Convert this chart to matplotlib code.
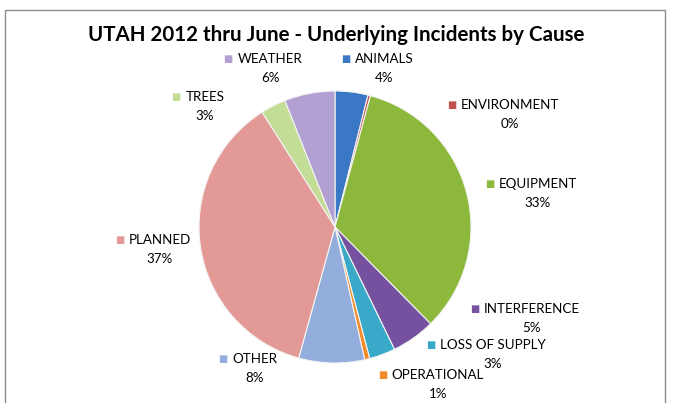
import matplotlib.pyplot as plt
from matplotlib.patches import Rectangle

# data (percent of incidents)
causes = ['ANIMALS', 'ENVIRONMENT', 'EQUIPMENT', 'INTERFERENCE', 'LOSS OF SUPPLY',
          'OPERATIONAL', 'OTHER', 'PLANNED', 'TREES', 'WEATHER']
shares = [3.9, 0.3, 33.4, 5.2, 3.1, 0.6, 7.8, 36.7, 3.0, 6.0]
colors = ['#3a77c4', '#c0504d', '#8cb83c', '#7551a0', '#38a9c8',
          '#f28a2a', '#93addc', '#e39a97', '#c3dc96', '#b3a0d2']

# label anchor (pixel, centre of the name text), layout only
label_pos = [(384, 59), (510, 105), (538, 184), (532, 309), (493, 345),
             (438, 375), (255, 359), (160, 240), (205, 97), (270, 59)]

W, H = 673, 403
plt.rcParams['font.family'] = ['Lato', 'DejaVu Sans']
fig = plt.figure(figsize=(W / 100, H / 100), dpi=100)

# chart frame
fig.patches.append(Rectangle((5 / W, -0.05), 660 / W, 1 - 10 / H + 0.05,
                             transform=fig.transFigure, fill=False,
                             edgecolor='#8c8c8c', linewidth=1))

cx, cy, r = 335, 227, 136
ax = fig.add_axes([(cx - r) / W, 1 - (cy + r) / H, 2 * r / W, 2 * r / H])
ax.pie(shares, colors=colors, startangle=90, counterclock=False,
       wedgeprops=dict(edgecolor='#f4f4f4', linewidth=0.8))
ax.set_xlim(-1, 1)
ax.set_ylim(-1, 1)
ax.axis('off')

fig.text(0.5, 1 - 35 / H, 'UTAH 2012 thru June - Underlying Incidents by Cause',
         ha='center', va='center', fontsize=14.8, fontweight='bold')

for name, val, col, (px, py) in zip(causes, shares, colors, label_pos):
    t = fig.text(px / W, 1 - py / H, name, ha='center', va='center', fontsize=9.6)
    fig.canvas.draw()
    bb = t.get_window_extent()
    fig.text((bb.x0 - 14) / W, 1 - py / H, '\u25a0', color=col, ha='left',
             va='center', fontsize=7, family='DejaVu Sans')
    fig.text(px / W, 1 - (py + 19) / H, '%.0f%%' % val, ha='center',
             va='center', fontsize=9.6)

fig.savefig('out.png', dpi=100)
